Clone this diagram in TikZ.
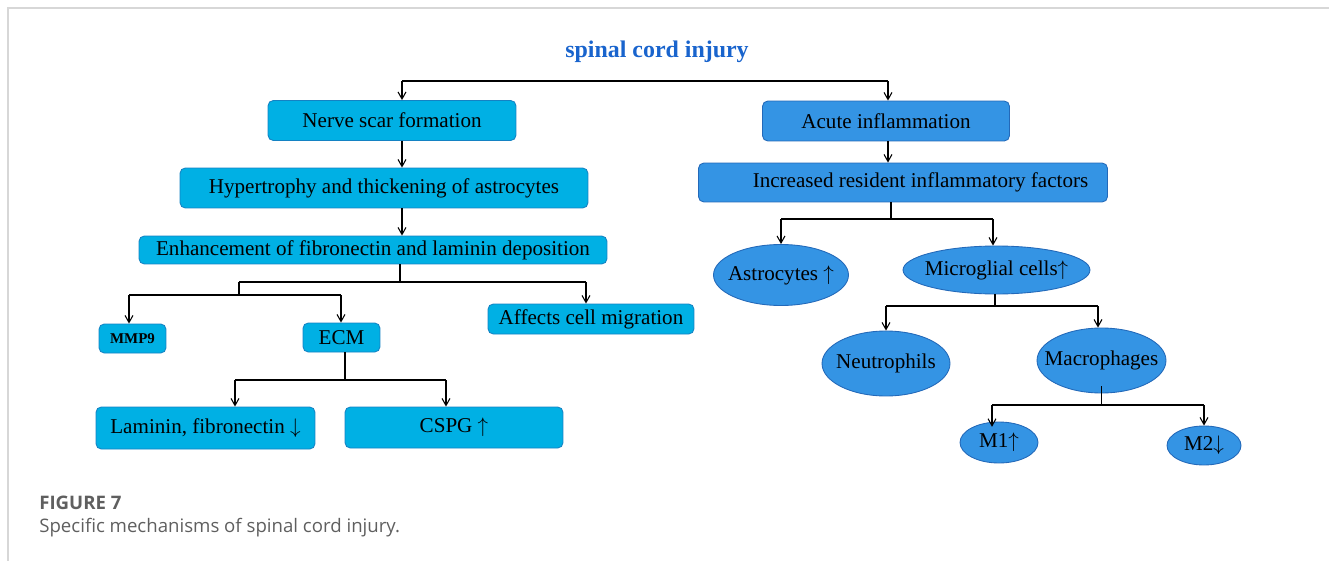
\documentclass[tikz,border=0pt]{standalone}
\usepackage{fontspec}
\setmainfont{Liberation Serif}
\newfontfamily\capfont{Open Sans}
\usepackage{xcolor}
\definecolor{scarcyan}{RGB}{0,176,228}
\definecolor{scaredge}{RGB}{20,130,195}
\definecolor{inflblue}{RGB}{52,148,228}
\definecolor{infledge}{RGB}{35,105,185}
\definecolor{titleblue}{RGB}{25,100,205}
\definecolor{framegray}{RGB}{215,215,215}
\definecolor{capgray}{RGB}{95,95,95}
\usepackage{tikz}
\usetikzlibrary{shapes.geometric,arrows.meta}

\begin{document}
\begin{tikzpicture}[x=0.02cm,y=-0.02cm,
  every node/.style={font=\fontsize{12}{14}\selectfont},
  scarbox/.style={rectangle,rounded corners=3pt,draw=scaredge,fill=scarcyan,line width=0.5pt,inner sep=1pt},
  inflbox/.style={rectangle,rounded corners=3pt,draw=infledge,fill=inflblue,line width=0.5pt,inner sep=1pt},
  oval/.style={ellipse,draw=infledge,fill=inflblue,line width=0.5pt,inner sep=0pt},
  arr/.style={-{Straight Barb[length=4pt,width=4.5pt]},line width=0.6pt},
  link/.style={line width=0.6pt}]
  \useasboundingbox (0,0) rectangle (1329,561);
  % frame
  \draw[framegray,line width=1pt] (8,561) -- (8,8) -- (1329,8);

  % title
  \node[font=\fontsize{13.6}{16}\selectfont\bfseries,text=titleblue] (title) at (657,52) {spinal cord injury};

  % scar branch
  \node[scarbox,minimum width=4.96cm,minimum height=0.8cm] (nerve) at (392,120.5) {Nerve scar formation};
  \node[scarbox,minimum width=8.16cm,minimum height=0.8cm] (hyper) at (384,188) {Hypertrophy and thickening of astrocytes};
  \node[scarbox,minimum width=9.36cm,minimum height=0.56cm] (enh) at (373,250) {Enhancement of fibronectin and laminin deposition};
  \node[scarbox,minimum width=1.34cm,minimum height=0.58cm,font=\fontsize{8.5}{10}\selectfont\bfseries] (mmp) at (132.5,338.5) {MMP9};
  \node[scarbox,minimum width=1.54cm,minimum height=0.58cm] (ecm) at (341.5,337.5) {ECM};
  \node[scarbox,minimum width=4.12cm,minimum height=0.6cm] (cell) at (591,319) {Affects cell migration};
  \node[scarbox,minimum width=4.38cm,minimum height=0.84cm] (lam) at (205.5,428) {Laminin, fibronectin $\downarrow$};
  \node[scarbox,minimum width=4.36cm,minimum height=0.82cm] (cspg) at (454,427.5) {CSPG $\uparrow$};

  % inflammation branch
  \node[inflbox,minimum width=4.94cm,minimum height=0.8cm] (acute) at (886,121) {Acute inflammation};
  \node[inflbox,minimum width=8.18cm,minimum height=0.78cm] (incr) at (903,182.5) {\hspace*{0.7cm}Increased resident inflammatory factors};
  \node[oval,minimum width=2.7cm,minimum height=1.22cm,label=center:{Astrocytes $\uparrow$}] (astro) at (781,275) {};
  \node[oval,minimum width=3.74cm,minimum height=0.96cm,label=center:{Microglial cells$\uparrow$}] (micro) at (996.5,270) {};
  \node[oval,minimum width=2.56cm,minimum height=1.3cm,label=center:{Neutrophils}] (neut) at (886,363.5) {};
  \node[oval,minimum width=2.58cm,minimum height=1.3cm,label=center:{Macrophages}] (macro) at (1101.5,360.5) {};
  \node[oval,minimum width=1.56cm,minimum height=0.82cm,label=center:{M1$\uparrow$}] (mone) at (999,442.5) {};
  \node[oval,minimum width=1.48cm,minimum height=0.78cm,label=center:{M2$\downarrow$}] (mtwo) at (1204,445.5) {};

  % caption
  \node[anchor=west,inner sep=0pt,text=capgray,font=\capfont\fontsize{10.6}{12}\selectfont\bfseries] (fig) at (39,503) {FIGURE 7};
  \node[anchor=west,inner sep=0pt,text=capgray,font=\capfont\fontsize{10.6}{12}\selectfont] (cap) at (39,528) {Specific mechanisms of spinal cord injury.};

  % connectors
  \coordinate (tl) at (402,81);
  \coordinate (tr) at (888,81);
  \draw[link] (tl) -- (tr);
  \draw[arr] (tl) -- (tl |- nerve.north);
  \draw[arr] (tr) -- (tr |- acute.north);
  \draw[arr] (tl |- nerve.south) -- (tl |- hyper.north);
  \draw[arr] (tl |- hyper.south) -- (tl |- enh.north);
  \draw[arr] (tr |- acute.south) -- (tr |- incr.north);

  \coordinate (e0) at (400,282);
  \coordinate (e1) at (239,282);
  \coordinate (e2) at (586,282);
  \coordinate (e3) at (239,295);
  \coordinate (e4) at (129,295);
  \coordinate (e5) at (341,295);
  \draw[link] (e0 |- enh.south) -- (e0);
  \draw[link] (e1) -- (e2);
  \draw[line width=1pt] (e1) -- (e3);
  \draw[link] (e4) -- (e5);
  \draw[arr] (e2) -- (e2 |- cell.north);
  \draw[arr] (e4) -- (e4 |- mmp.north);
  \draw[arr] (e5) -- (e5 |- ecm.north);

  \coordinate (c0) at (345,380);
  \coordinate (c1) at (235,380);
  \coordinate (c2) at (446,380);
  \draw[link] (c0 |- ecm.south) -- (c0);
  \draw[link] (c1) -- (c2);
  \draw[arr] (c1) -- (c1 |- lam.north);
  \draw[arr] (c2) -- (c2 |- cspg.north);

  \coordinate (r0) at (891,219);
  \coordinate (r1) at (781,219);
  \coordinate (r2) at (993,219);
  \draw[line width=1pt] (r0 |- incr.south) -- (r0);
  \draw[link] (r1) -- (r2);
  \draw[arr] (r1) -- (r1 |- astro.north);
  \draw[arr] (r2) -- (r2 |- micro.north);

  \coordinate (m0) at (995,306);
  \coordinate (m1) at (886,306);
  \coordinate (m2) at (1098,306);
  \draw[link] (m0 |- micro.south) -- (m0);
  \draw[link] (m1) -- (m2);
  \draw[arr] (m1) -- (m1 |- neut.north);
  \draw[arr] (m2) -- (m2 |- macro.north);

  \coordinate (k0) at (1101.5,405);
  \coordinate (k1) at (992,405);
  \coordinate (k2) at (1204,405);
  \draw[link] ([yshift=4pt]macro.south) -- (k0);
  \draw[link] (k1) -- (k2);
  \draw[arr] (k1) -- ([yshift=-3pt]k1 |- mone.north);
  \draw[arr] (k2) -- (k2 |- mtwo.north);
\end{tikzpicture}
\end{document}
